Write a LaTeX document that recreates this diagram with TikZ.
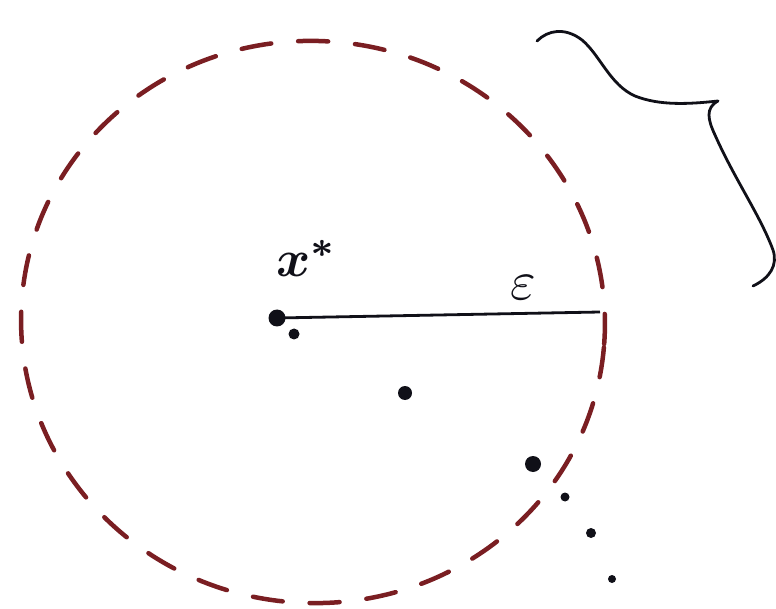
\documentclass[tikz,border=0pt]{standalone}
\usepackage{amsmath}
\usepackage{tikz}
\definecolor{dred}{HTML}{7A1E22}
\definecolor{ink}{HTML}{101018}
\tikzset{
  dot/.style={circle,fill=ink,inner sep=0pt,minimum size=#1},
  lbl/.style={inner sep=0pt,text=ink}
}
\begin{document}
\begin{tikzpicture}[x=1pt,y=-1pt]
\useasboundingbox (0,0) rectangle (776,609);
% dashed ball
\draw[dred,line width=4.5pt,dash pattern=on 30pt off 27pt,line cap=round,rotate around={-5:(313,322)}]
  (313,322) ellipse [x radius=292, y radius=281];
% center and radius
\node[dot=17pt] (xs) at (277,318) {};
\node[dot=11pt] (p0) at (294,334) {};
\coordinate (r) at (600,312);
\draw[ink,line width=2.8pt] (xs.center) -- (r);
\node[lbl,scale=5.2] (xlab) at (307,258) {$\boldsymbol{x}^{\boldsymbol{*}}$};
\node[lbl,scale=5.5] (eps) at (523,288) {$\varepsilon$};
% sequence points
\node[dot=14pt] (p1) at (405,393) {};
\node[dot=16pt] (p2) at (533,464) {};
\node[dot=9pt] (p3) at (565,497) {};
\node[dot=10pt] (p4) at (591,533) {};
\node[dot=8pt] (p5) at (612,579) {};
% brace
\draw[ink,line width=2.8pt,line cap=round,line join=round]
  (537,41) .. controls (548,30) and (565,27) .. (582,40)
  .. controls (600,55) and (610,85) .. (635,96)
  .. controls (660,106) and (690,104) .. (718,101)
  .. controls (705,108) and (708,120) .. (715,135)
  .. controls (735,180) and (760,215) .. (773,250)
  .. controls (778,265) and (770,278) .. (753,286);
\end{tikzpicture}
\end{document}
